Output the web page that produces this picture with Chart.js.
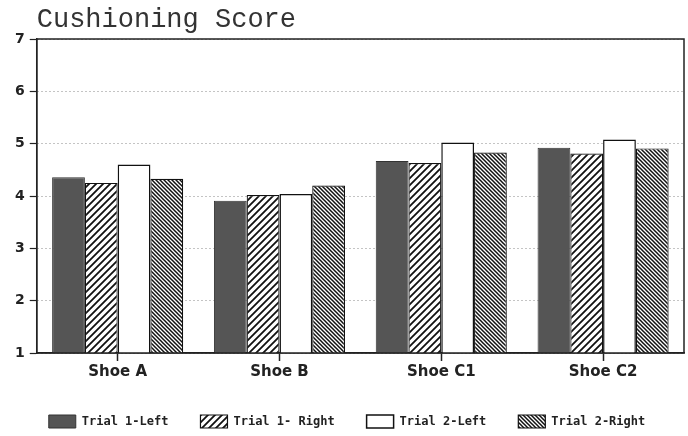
<!DOCTYPE html>
<html>
<head>
<meta charset="utf-8">
<script src="https://cdn.jsdelivr.net/npm/chart.js@4.4.0/dist/chart.umd.min.js"></script>
<style>
  html, body { margin: 0; padding: 0; background: #fff; }
  #wrap { width: 688px; height: 436px; }
</style>
</head>
<body>
<div id="wrap"><canvas id="chart" width="688" height="436"></canvas></div>
<script>
// values
var categories = ['Shoe A', 'Shoe B', 'Shoe C1', 'Shoe C2'];
var seriesNames = ['Trial 1-Left', 'Trial 1- Right', 'Trial 2-Left', 'Trial 2-Right'];
var trial1Left  = [4.36, 3.91, 4.67, 4.92];
var trial1Right = [4.25, 4.02, 4.63, 4.81];
var trial2Left  = [4.60, 4.04, 5.02, 5.08];
var trial2Right = [4.33, 4.20, 4.83, 4.91];
var yTicks = [1, 2, 3, 4, 5, 6, 7];

function hatch(size, dir, lw) {
    var c = document.createElement('canvas');
    c.width = size; c.height = size;
    var g = c.getContext('2d');
    g.fillStyle = '#fff';
    g.fillRect(0, 0, size, size);
    g.strokeStyle = '#111';
    g.lineWidth = lw;
    g.beginPath();
    if (dir > 0) {
        g.moveTo(-1, size + 1); g.lineTo(size + 1, -1);
        g.moveTo(-1, 1); g.lineTo(1, -1);
        g.moveTo(size - 1, size + 1); g.lineTo(size + 1, size - 1);
    } else {
        g.moveTo(-1, -1); g.lineTo(size + 1, size + 1);
        g.moveTo(size - 1, -1); g.lineTo(size + 1, 1);
        g.moveTo(-1, size - 1); g.lineTo(1, size + 1);
    }
    g.stroke();
    return g.createPattern(c, 'repeat');
}

var ctx = document.getElementById('chart').getContext('2d');
var fillUp = hatch(7, 1, 1.8);
var fillDown = hatch(4, -1, 1.5);

var frame = {
    id: 'frame',
    afterDraw: function(chart) {
        var a = chart.chartArea, g = chart.ctx;
        g.save();
        g.strokeStyle = '#222';
        g.lineWidth = 1.5;
        g.strokeRect(a.left, a.top, a.right - a.left, a.bottom - a.top);
        g.fillStyle = '#333';
        g.font = '27px "Liberation Mono"';
        g.textBaseline = 'alphabetic';
        g.fillText('Cushioning Score', a.left, 27);
        g.restore();
    }
};

new Chart(ctx, {
    type: 'bar',
    data: {
        labels: categories,
        datasets: [
            { label: seriesNames[0], data: trial1Left, backgroundColor: '#555', borderColor: '#333', borderWidth: 1 },
            { label: seriesNames[1], data: trial1Right, backgroundColor: fillUp, borderColor: '#111', borderWidth: 1.2 },
            { label: seriesNames[2], data: trial2Left, backgroundColor: '#fff', borderColor: '#111', borderWidth: 1.5 },
            { label: seriesNames[3], data: trial2Right, backgroundColor: fillDown, borderColor: '#111', borderWidth: 1.2 }
        ]
    },
    options: {
        responsive: false,
        animation: false,
        layout: { padding: { left: 10, right: 4, top: 39, bottom: 0 } },
        datasets: { bar: { barPercentage: 1.0, categoryPercentage: 0.81 } },
        scales: {
            x: {
                grid: { offset: false, drawOnChartArea: false, tickLength: 8, tickColor: '#222', tickWidth: 1.5 },
                border: { color: '#222', width: 1.5 },
                ticks: { color: '#222', padding: 2, font: { family: '"DejaVu Sans"', weight: 'bold', size: 15 } }
            },
            y: {
                min: 1, max: 7,
                afterBuildTicks: function(axis) { axis.ticks = yTicks.map(function(v) { return { value: v }; }); },
                grid: { color: '#888', tickLength: 7, tickColor: '#222', tickWidth: 1.2, tickBorderDash: [] },
                border: { color: '#222', width: 1.5, dash: [1, 3] },
                ticks: { color: '#222', padding: 5, font: { family: '"DejaVu Sans"', weight: 'bold', size: 14 } }
            }
        },
        plugins: {
            title: { display: false },
            tooltip: { enabled: false },
            legend: {
                position: 'bottom',
                maxHeight: 53,
                labels: {
                    color: '#222',
                    boxWidth: 27, boxHeight: 13,
                    padding: 32,
                    font: { family: '"DejaVu Sans Mono"', weight: 'bold', size: 12 }
                }
            }
        }
    },
    plugins: [frame]
});
</script>
</body>
</html>
